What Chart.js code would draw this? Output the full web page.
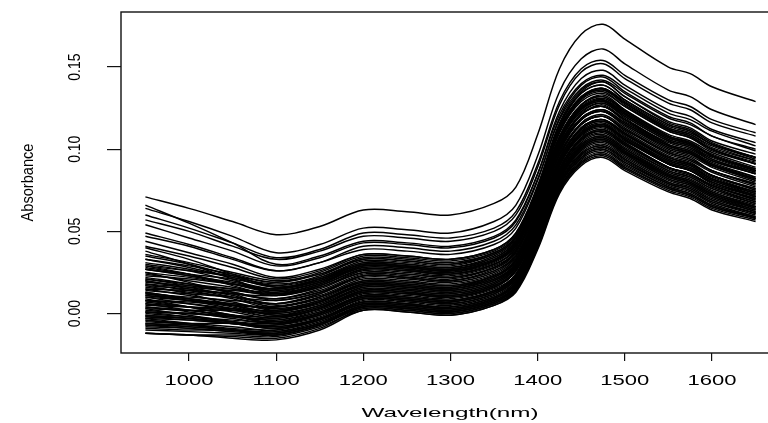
<!DOCTYPE html>
<html><head><meta charset="utf-8">
<script src="https://cdn.jsdelivr.net/npm/chart.js@4.4.0/dist/chart.umd.min.js"></script>
<style>html,body{margin:0;padding:0;overflow:hidden;background:#fff;width:768px;height:423px}canvas{display:block}</style>
</head><body><canvas id="c" width="790" height="423"></canvas>
<script>
const wavelengths = [950,1000,1050,1100,1150,1200,1250,1300,1350,1375,1400,1425,1450,1475,1500,1550,1575,1600,1650];
const xTicks = [1000,1100,1200,1300,1400,1500,1600];
const xTickLabels = ['1000','1100','1200','1300','1400','1500','1600'];
const yTicks = [0,0.05,0.10,0.15];
const yTickLabels = ['0.00','0.05','0.10','0.15'];
const xTitle = 'Wavelength(nm)';
const yTitle = 'Absorbance';

const spec01=[.071,.064,.056,.048,.053,.063,.062,.060,.067,.077,.109,.149,.170,.176,.167,.150,.146,.138,.129];
const spec02=[.064,.056,.047,.037,.042,.052,.051,.049,.056,.066,.096,.135,.155,.161,.152,.136,.132,.124,.115];
const spec03=[.066,.055,.043,.030,.035,.044,.043,.041,.047,.057,.085,.121,.140,.145,.137,.122,.118,.111,.102];
const spec04=[.060,.052,.043,.034,.039,.049,.048,.046,.052,.062,.091,.129,.149,.154,.145,.130,.126,.118,.110];
const spec05=[.057,.050,.041,.033,.038,.047,.046,.044,.050,.060,.089,.127,.147,.152,.143,.128,.124,.116,.108];
const spec06=[.054,.046,.038,.029,.034,.043,.042,.040,.046,.056,.085,.123,.143,.148,.139,.124,.120,.112,.104];
const spec07=[.049,.042,.034,.026,.031,.041,.040,.038,.044,.054,.082,.118,.137,.142,.134,.119,.115,.108,.099];
const spec08=[.047,.041,.033,.026,.031,.039,.038,.036,.042,.052,.081,.119,.139,.144,.135,.120,.116,.108,.100];
const spec09=[.044,.037,.030,.022,.027,.036,.035,.033,.039,.049,.077,.113,.132,.137,.129,.114,.110,.103,.094];
const spec10=[.041,.035,.028,.021,.026,.036,.035,.033,.039,.049,.078,.116,.136,.141,.132,.117,.113,.105,.097];
const spec11=[.033,.029,.024,.019,.024,.034,.033,.031,.037,.047,.076,.114,.134,.139,.130,.115,.111,.103,.095];
const spec12=[.027,.024,.021,.017,.023,.033,.032,.030,.036,.046,.074,.110,.129,.134,.126,.111,.107,.100,.091];
const spec13=[.035,.030,.023,.017,.022,.032,.031,.029,.036,.046,.076,.115,.135,.141,.132,.116,.112,.104,.095];
const spec14=[.040,.033,.024,.016,.021,.030,.029,.027,.033,.043,.071,.107,.126,.131,.123,.108,.104,.097,.088];
const spec15=[.023,.021,.018,.015,.021,.031,.030,.028,.034,.044,.072,.108,.127,.132,.124,.109,.105,.098,.089];
const spec16=[.027,.023,.019,.015,.020,.030,.029,.027,.033,.043,.072,.110,.130,.135,.126,.111,.107,.099,.091];
const spec17=[.018,.016,.014,.012,.018,.029,.028,.026,.032,.041,.068,.103,.121,.126,.118,.104,.100,.093,.085];
const spec18=[.028,.024,.018,.013,.018,.028,.027,.025,.031,.041,.069,.105,.124,.129,.121,.106,.102,.095,.086];
const spec19=[.038,.030,.021,.012,.017,.027,.026,.024,.030,.040,.069,.107,.127,.132,.123,.108,.104,.096,.088];
const spec20=[.021,.018,.015,.011,.017,.027,.026,.024,.030,.039,.066,.101,.119,.124,.116,.102,.098,.091,.083];
const spec21=[.015,.014,.012,.011,.016,.026,.025,.023,.029,.038,.065,.100,.118,.123,.115,.101,.097,.090,.082];
const spec22=[.029,.024,.017,.011,.016,.025,.024,.022,.028,.038,.067,.105,.125,.130,.121,.106,.102,.094,.086];
const spec23=[.021,.017,.013,.009,.015,.025,.024,.022,.028,.038,.066,.102,.121,.126,.118,.103,.099,.092,.083];
const spec24=[.017,.015,.012,.009,.014,.024,.023,.021,.028,.038,.068,.107,.127,.133,.124,.108,.104,.096,.087];
const spec25=[.020,.016,.011,.006,.012,.023,.022,.020,.026,.035,.062,.097,.115,.120,.112,.098,.094,.087,.079];
const spec26=[.012,.010,.008,.006,.012,.022,.021,.019,.025,.035,.063,.099,.118,.123,.115,.100,.096,.089,.080];
const spec27=[.016,.013,.010,.006,.011,.021,.020,.018,.024,.034,.063,.101,.121,.126,.117,.102,.098,.090,.082];
const spec28=[.020,.015,.010,.004,.010,.020,.019,.017,.023,.032,.059,.094,.112,.117,.109,.095,.091,.084,.076];
const spec29=[.008,.007,.005,.004,.009,.019,.018,.016,.022,.032,.060,.096,.115,.120,.112,.097,.093,.086,.077];
const spec30=[.025,.019,.012,.005,.010,.019,.018,.016,.023,.033,.063,.102,.122,.128,.119,.103,.099,.091,.082];
const spec31=[.013,.009,.005,.001,.007,.018,.017,.015,.021,.031,.060,.098,.118,.123,.114,.099,.095,.087,.079];
const spec32=[.011,.009,.006,.003,.008,.018,.017,.015,.021,.030,.057,.092,.110,.115,.107,.093,.089,.082,.074];
const spec33=[.011,.008,.005,.001,.007,.017,.016,.014,.020,.030,.058,.094,.113,.118,.110,.095,.091,.084,.075];
const spec34=[.003,.002,.002,.001,.006,.016,.015,.013,.019,.028,.055,.090,.108,.113,.105,.091,.087,.080,.072];
const spec35=[.013,.009,.004,-.001,.005,.015,.014,.012,.018,.028,.057,.095,.115,.120,.111,.096,.092,.084,.076];
const spec36=[.006,.004,.002,.000,.005,.015,.014,.012,.018,.028,.056,.092,.111,.116,.108,.093,.089,.082,.073];
const spec37=[.007,.004,.001,-.003,.003,.014,.013,.011,.017,.026,.053,.088,.106,.111,.103,.089,.085,.078,.070];
const spec38=[.017,.012,.005,-.001,.004,.014,.013,.011,.017,.027,.055,.091,.110,.115,.107,.092,.088,.081,.072];
const spec39=[.001,.000,-.002,-.003,.003,.013,.012,.010,.016,.026,.054,.090,.109,.114,.106,.091,.087,.080,.071];
const spec40=[.010,.006,.002,-.002,.003,.013,.012,.010,.016,.026,.055,.093,.113,.118,.109,.094,.090,.082,.074];
const spec41=[.004,.002,-.001,-.004,.002,.012,.011,.009,.015,.024,.051,.086,.104,.109,.101,.087,.083,.076,.068];
const spec42=[.002,.000,-.002,-.004,.001,.011,.010,.008,.014,.024,.052,.088,.107,.112,.104,.089,.085,.078,.069];
const spec43=[.009,.004,-.001,-.006,.000,.011,.010,.008,.014,.023,.050,.085,.103,.108,.100,.086,.082,.075,.067];
const spec44=[.008,.004,-.001,-.006,.000,.010,.009,.007,.013,.022,.049,.084,.102,.107,.099,.085,.081,.074,.066];
const spec45=[-.002,-.003,-.005,-.006,.000,.010,.009,.007,.013,.023,.052,.090,.110,.115,.106,.091,.087,.079,.071];
const spec46=[.004,.001,-.003,-.006,-.001,.009,.008,.006,.012,.021,.048,.083,.101,.106,.098,.084,.080,.073,.065];
const spec47=[-.005,-.006,-.006,-.007,-.001,.009,.008,.006,.012,.022,.050,.086,.105,.110,.102,.087,.083,.076,.067];
const spec48=[-.001,-.003,-.006,-.009,-.003,.008,.007,.005,.011,.020,.047,.082,.100,.105,.097,.083,.079,.072,.064];
const spec49=[-.002,-.004,-.006,-.008,-.003,.007,.006,.004,.010,.020,.048,.084,.103,.108,.100,.085,.081,.074,.065];
const spec50=[.003,-.001,-.005,-.009,-.003,.007,.006,.004,.010,.018,.044,.078,.095,.100,.092,.079,.075,.068,.061];
const spec51=[-.006,-.007,-.009,-.010,-.004,.006,.005,.003,.009,.018,.045,.080,.098,.103,.095,.081,.077,.070,.062];
const spec52=[-.001,-.003,-.006,-.009,-.004,.006,.005,.003,.009,.019,.047,.083,.102,.107,.099,.084,.080,.073,.064];
const spec53=[-.006,-.008,-.010,-.012,-.006,.005,.004,.002,.008,.016,.042,.076,.093,.098,.090,.077,.073,.066,.059];
const spec54=[-.009,-.010,-.010,-.011,-.005,.005,.004,.002,.008,.017,.044,.079,.097,.102,.094,.080,.076,.069,.061];
const spec55=[-.007,-.008,-.010,-.011,-.006,.004,.003,.001,.007,.017,.045,.081,.100,.105,.097,.082,.078,.071,.062];
const spec56=[-.003,-.006,-.010,-.013,-.007,.004,.003,.001,.007,.015,.041,.075,.092,.097,.089,.076,.072,.065,.058];
const spec57=[-.007,-.009,-.011,-.013,-.007,.003,.002,.000,.006,.015,.042,.077,.095,.100,.092,.078,.074,.067,.059];
const spec58=[-.012,-.013,-.014,-.015,-.009,.003,.002,.000,.006,.014,.040,.074,.091,.096,.088,.075,.071,.064,.057];
const spec59=[-.012,-.013,-.015,-.016,-.010,.002,.001,-.001,.005,.014,.041,.076,.094,.099,.091,.077,.073,.066,.058];
const spec60=[-.012,-.013,-.013,-.014,-.008,.002,.001,-.001,.005,.013,.039,.073,.090,.095,.087,.074,.070,.063,.056];
const spec61=[.029,.026,.023,.019,.025,.035,.034,.032,.038,.048,.076,.112,.131,.136,.128,.113,.109,.102,.093];
const spec62=[.025,.022,.018,.014,.019,.029,.028,.026,.032,.042,.070,.106,.125,.130,.122,.107,.103,.096,.087];
const spec63=[.031,.027,.022,.018,.022,.031,.030,.028,.035,.045,.074,.112,.132,.137,.128,.113,.109,.101,.093];
const spec64=[.019,.017,.015,.013,.019,.029,.028,.026,.032,.042,.070,.106,.125,.130,.122,.107,.103,.096,.087];
const spec65=[.024,.020,.016,.012,.017,.027,.026,.024,.030,.040,.068,.104,.123,.128,.120,.105,.101,.094,.085];
const spec66=[.014,.012,.010,.008,.013,.023,.022,.020,.026,.036,.064,.100,.119,.124,.116,.101,.097,.090,.081];
const spec67=[.022,.018,.013,.008,.013,.023,.022,.020,.027,.037,.066,.104,.124,.129,.120,.105,.101,.093,.085];
const spec68=[.010,.008,.006,.004,.010,.020,.019,.017,.023,.033,.061,.097,.116,.121,.113,.098,.094,.087,.078];
const spec69=[.018,.014,.009,.003,.008,.018,.017,.015,.022,.032,.062,.101,.121,.127,.118,.102,.098,.090,.081];
const spec70=[.005,.004,.003,.002,.007,.017,.016,.014,.020,.029,.056,.091,.109,.114,.106,.092,.088,.081,.073];
const spec71=[.015,.011,.007,.002,.007,.017,.016,.014,.020,.030,.058,.094,.113,.118,.110,.095,.091,.084,.075];
const spec72=[.008,.006,.003,.000,.005,.016,.015,.013,.019,.029,.057,.093,.112,.117,.109,.094,.090,.083,.074];
const spec73=[.001,.000,-.001,-.002,.004,.014,.013,.011,.017,.026,.053,.088,.106,.111,.103,.089,.085,.078,.070];
const spec74=[.012,.008,.003,-.002,.003,.013,.012,.010,.016,.026,.054,.090,.109,.114,.106,.091,.087,.080,.071];
const spec75=[.000,-.002,-.004,-.005,.001,.011,.010,.008,.014,.024,.052,.088,.107,.112,.104,.089,.085,.078,.069];
const spec76=[.006,.002,-.002,-.005,.000,.010,.009,.007,.013,.023,.051,.087,.106,.111,.103,.088,.084,.077,.068];
const spec77=[-.003,-.004,-.006,-.007,-.002,.009,.008,.006,.012,.021,.048,.083,.101,.106,.098,.084,.080,.073,.065];
const spec78=[.001,-.002,-.005,-.008,-.003,.007,.006,.004,.010,.019,.046,.081,.099,.104,.096,.082,.078,.071,.063];
const spec79=[-.004,-.006,-.008,-.010,-.004,.006,.005,.003,.009,.018,.046,.082,.101,.106,.098,.083,.079,.072,.063];
const spec80=[-.008,-.009,-.011,-.012,-.006,.004,.003,.001,.007,.016,.043,.078,.096,.101,.093,.079,.075,.068,.060];
const spec81=[-.010,-.011,-.012,-.013,-.007,.004,.003,.001,.007,.015,.041,.075,.092,.097,.089,.076,.072,.065,.058];
const spec82=[-.004,-.007,-.010,-.012,-.006,.005,.004,.002,.008,.017,.044,.079,.097,.102,.094,.080,.076,.069,.061];
const spec83=[.027,.023,.018,.014,.019,.028,.027,.025,.032,.042,.072,.111,.131,.137,.128,.112,.108,.100,.091];
const spec84=[.033,.028,.022,.016,.021,.030,.029,.027,.034,.044,.073,.111,.131,.136,.127,.112,.108,.100,.092];
const spec85=[.036,.031,.025,.020,.024,.033,.032,.030,.037,.047,.076,.114,.134,.139,.130,.115,.111,.103,.095];
const spec86=[.030,.026,.020,.015,.020,.029,.028,.026,.032,.042,.070,.106,.125,.130,.122,.107,.103,.096,.087];

const spectra=[spec01,spec02,spec03,spec04,spec05,spec06,spec07,spec08,spec09,spec10,
spec11,spec12,spec13,spec14,spec15,spec16,spec17,spec18,spec19,spec20,
spec21,spec22,spec23,spec24,spec25,spec26,spec27,spec28,spec29,spec30,
spec31,spec32,spec33,spec34,spec35,spec36,spec37,spec38,spec39,spec40,
spec41,spec42,spec43,spec44,spec45,spec46,spec47,spec48,spec49,spec50,
spec51,spec52,spec53,spec54,spec55,spec56,spec57,spec58,spec59,spec60,
spec61,spec62,spec63,spec64,spec65,spec66,spec67,spec68,spec69,spec70,
spec71,spec72,spec73,spec74,spec75,spec76,spec77,spec78,spec79,spec80,
spec81,spec82,spec83,spec84,spec85,spec86];

const FONT = '"Liberation Sans", Arial, Helvetica, sans-serif';

const rPlot = {
  id:'rPlot',
  afterDraw(chart){
    const ctx = chart.ctx, a = chart.chartArea;
    const xs = chart.scales.x, ys = chart.scales.y;
    ctx.save();
    ctx.strokeStyle = '#111'; ctx.lineWidth = 1.4;
    ctx.strokeRect(a.left, a.top, a.right - a.left, a.bottom - a.top);
    ctx.fillStyle = '#000';
    ctx.font = '15px ' + FONT; ctx.textAlign = 'center'; ctx.textBaseline = 'alphabetic';
    xTicks.forEach((v,i)=>{
      const px = xs.getPixelForValue(v);
      ctx.save(); ctx.translate(px, 385); ctx.scale(1.47,1); ctx.fillText(xTickLabels[i],0,0); ctx.restore();
    });
    ctx.font = '13px ' + FONT;
    const tw = ctx.measureText(xTitle).width;
    ctx.save(); ctx.translate((a.left + 779)/2, 417); ctx.scale(177/tw,1); ctx.fillText(xTitle,0,0); ctx.restore();
    ctx.font = '14px ' + FONT;
    yTicks.forEach((v,i)=>{
      const py = ys.getPixelForValue(v);
      ctx.save(); ctx.translate(80, py); ctx.scale(1.2,1); ctx.rotate(-Math.PI/2); ctx.fillText(yTickLabels[i],0,0); ctx.restore();
    });
    ctx.font = '14.6px ' + FONT;
    ctx.save(); ctx.translate(33.3, (a.top + a.bottom)/2); ctx.scale(1.15,1); ctx.rotate(-Math.PI/2); ctx.fillText(yTitle,0,0); ctx.restore();
    ctx.restore();
  }
};

new Chart(document.getElementById('c'), {
  type:'line',
  data:{ datasets: spectra.map(s => ({
    data: s.map((v,i)=>({x: wavelengths[i], y: v})),
    borderColor:'#000', borderWidth:1.45, pointRadius:0, fill:false,
    tension:0.35
  }))},
  options:{
    responsive:false, animation:false, events:[],
    layout:{padding:{top:12,right:10,left:0,bottom:0}},
    plugins:{legend:{display:false}, tooltip:{enabled:false}},
    scales:{
      x:{type:'linear', min:922, max:1678,
        grid:{drawOnChartArea:false, drawTicks:true, tickLength:8, color:'#111', lineWidth:1.2},
        border:{display:false}, ticks:{display:false},
        afterBuildTicks: s => { s.ticks = xTicks.map(v=>({value:v})); },
        afterFit: s => { s.height = 70; }
      },
      y:{type:'linear', min:-0.024, max:0.1835,
        grid:{drawOnChartArea:false, drawTicks:true, tickLength:14, color:'#111', lineWidth:1.2},
        border:{display:false}, ticks:{display:false},
        afterBuildTicks: s => { s.ticks = yTicks.map(v=>({value:v})); },
        afterFit: s => { s.width = 121; }
      }
    }
  },
  plugins:[rPlot]
});
</script></body></html>
